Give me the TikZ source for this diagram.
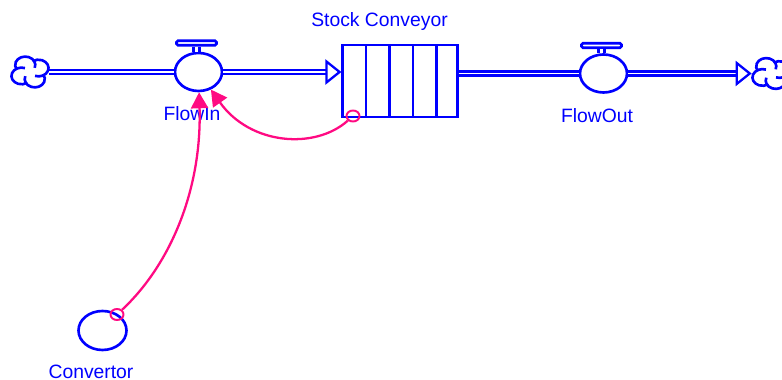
\documentclass[tikz,border=0pt]{standalone}
\usepackage{fontspec}
\setmainfont{Liberation Sans}
\usetikzlibrary{arrows.meta}
\usetikzlibrary{shapes.geometric}

\definecolor{flowblue}{RGB}{0,0,255}
\definecolor{linkpink}{RGB}{255,10,130}

\tikzset{
    part/.style={draw=flowblue, line width=1.5pt},
    valve/.style={part, ellipse, fill=white, inner sep=0pt, minimum width=0.94cm, minimum height=0.76cm},
    handle/.style={part, rounded corners=0.8pt, fill=white, inner sep=0pt, minimum width=0.8cm, minimum height=0.09cm},
    stem/.style={draw=flowblue, line width=1.5pt, double=white, double distance=0.07cm},
    pipe/.style={draw=flowblue, line width=1.3pt, double=white, double distance=0.9pt},
    cloudbox/.style={inner sep=0pt, minimum width=0.76cm, minimum height=0.62cm},
    label/.style={text=flowblue, font=\fontsize{11}{13}\selectfont},
    ring/.style={draw=linkpink, ellipse, line width=1.1pt, inner sep=0pt, minimum width=0.26cm, minimum height=0.22cm},
    link/.style={draw=linkpink, line width=1.3pt, -{Triangle[length=0.32cm,width=0.34cm]}},
    cloudmark/.pic={
        \begin{scope}[xscale=1.06, yscale=0.88]
            \foreach \x/\y/\s in {-0.16/-0.09/70, 0.09/-0.16/160, 0.16/0.09/250, -0.09/0.16/340}
                \draw[flowblue, line width=1.5pt] (\x,\y) ++(\s:0.19) arc (\s:\s+235:0.19);
        \end{scope}
    }
}

\begin{document}
\begin{tikzpicture}
    \useasboundingbox (0,0) rectangle (15.64,7.6);

    \node[cloudbox] (cloud1) at (0.60,6.16) {};
    \node[cloudbox] (cloud2) at (15.42,6.13) {};
    \pic at (cloud1) {cloudmark};
    \pic at (cloud2) {cloudmark};

    \node[valve] (valve1) at (3.97,6.16) {};
    \node[valve] (valve2) at (12.07,6.13) {};
    \node[handle] (handle1) at (3.93,6.74) {};
    \node[handle] (handle2) at (12.03,6.69) {};
    \node[part, minimum width=2.29cm, minimum height=1.44cm, inner sep=0pt] (stock) at (8.0,5.98) {};
    \node[part, ellipse, inner sep=0pt, minimum width=0.96cm, minimum height=0.78cm] (convertor) at (2.05,0.99) {};

    \node[label] (stocklabel) at (7.59,7.17) {Stock Conveyor};
    \node[label] (flowinlabel) at (3.84,5.32) {FlowIn};
    \node[label] (flowoutlabel) at (11.94,5.28) {FlowOut};
    \node[label] (convertorlabel) at (1.82,0.17) {Convertor};

    \node[ring] (ring1) at (7.06,5.28) {};
    \node[ring] (ring2) at (2.34,1.31) {};

    \foreach \x in {7.32,7.79,8.26,8.73}
        \draw[part] (\x,5.26) -- (\x,6.70);

    \draw[stem] (handle1.south) -- (handle1.south |- valve1.north);
    \draw[stem] (handle2.south) -- (handle2.south |- valve2.north);

    \draw[pipe] (cloud1) -- (valve1);
    \draw[pipe, -{Triangle[open, fill=white, length=0.32cm, width=0.5cm, line width=1.3pt]}] (valve1) -- (valve1 -| stock.west);
    \draw[pipe] (stock.east |- valve2) -- (valve2);
    \draw[pipe, -{Triangle[open, fill=white, length=0.32cm, width=0.5cm, line width=1.3pt]}] (valve2) -- (cloud2);

    \draw[link] (ring1) .. controls (6.3,4.6) and (5.0,4.7) .. (valve1);
    \draw[link] (ring2) .. controls (3.4,2.3) and (4.04,3.8) .. (valve1);
\end{tikzpicture}
\end{document}
